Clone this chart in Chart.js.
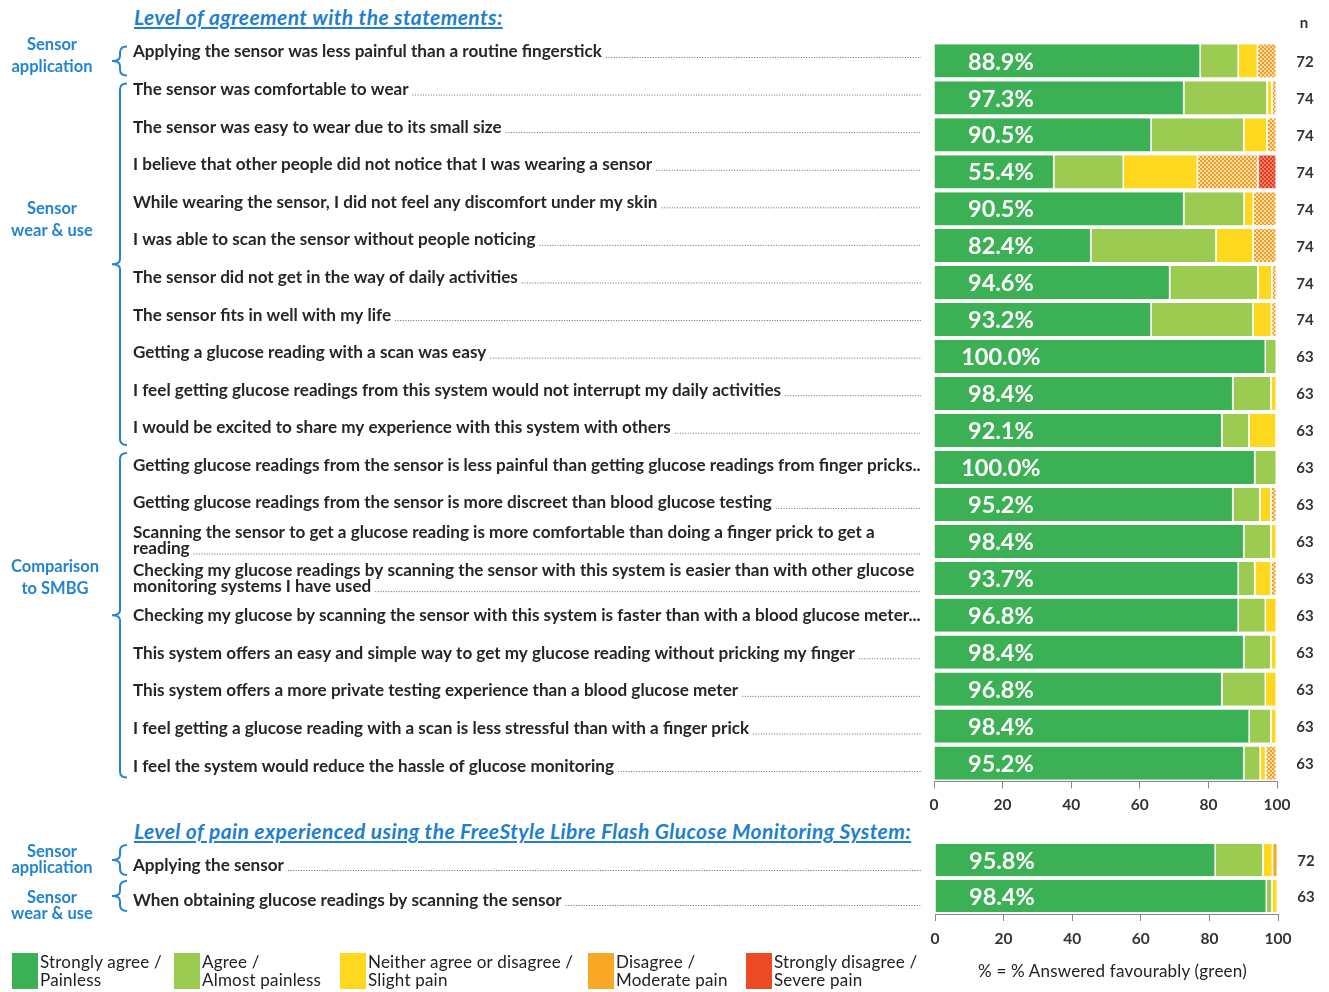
<!DOCTYPE html>
<html><head><meta charset="utf-8">
<script src="https://cdn.jsdelivr.net/npm/chart.js@4.4.0/dist/chart.umd.min.js"></script>
<style>
html,body{margin:0;padding:0;background:#fff;}
body{width:1329px;height:992px;position:relative;overflow:hidden;font-family:Lato,'Open Sans',sans-serif;}
#c1{position:absolute;left:0;top:0;}
#c2{position:absolute;left:0;top:820px;}
.title{position:absolute;left:134px;color:#1f7fcf;font-weight:bold;font-style:italic;font-size:21px;letter-spacing:0.4px;text-decoration:underline;white-space:nowrap;}
.leg{position:absolute;top:953px;height:36px;}
.sw{position:absolute;width:26px;height:36px;top:0;left:0;}
.lt{position:absolute;left:28px;top:0;font-size:17px;letter-spacing:0.2px;line-height:18px;color:#222;white-space:nowrap;}
.note{position:absolute;left:978px;top:960px;font-size:17px;letter-spacing:0.2px;color:#222;white-space:nowrap;}
</style></head>
<body>
<div class="title" style="top:4px">Level of agreement with the statements:</div>
<div class="title" style="top:818px">Level of pain experienced using the FreeStyle Libre Flash Glucose Monitoring System:</div>
<canvas id="c1" width="1329" height="822"></canvas>
<canvas id="c2" width="1329" height="130"></canvas>
<div id="legend"></div>
<div class="note">% = % Answered favourably (green)</div>
<script>
// ---------- DATA ----------
const statements = [
  'Applying the sensor was less painful than a routine fingerstick',
  'The sensor was comfortable to wear',
  'The sensor was easy to wear due to its small size',
  'I believe that other people did not notice that I was wearing a sensor',
  'While wearing the sensor, I did not feel any discomfort under my skin',
  'I was able to scan the sensor without people noticing',
  'The sensor did not get in the way of daily activities',
  'The sensor fits in well with my life',
  'Getting a glucose reading with a scan was easy',
  'I feel getting glucose readings from this system would not interrupt my daily activities',
  'I would be excited to share my experience with this system with others',
  'Getting glucose readings from the sensor is less painful than getting glucose readings from finger pricks..',
  'Getting glucose readings from the sensor is more discreet than blood glucose testing',
  ['Scanning the sensor to get a glucose reading is more comfortable than doing a finger prick to get a', 'reading'],
  ['Checking my glucose readings by scanning the sensor with this system is easier than with other glucose', 'monitoring systems I have used'],
  'Checking my glucose by scanning the sensor with this system is faster than with a blood glucose meter...',
  'This system offers an easy and simple way to get my glucose reading without pricking my finger',
  'This system offers a more private testing experience than a blood glucose meter',
  'I feel getting a glucose reading with a scan is less stressful than with a finger prick',
  'I feel the system would reduce the hassle of glucose monitoring'
];
const stronglyAgree = [77.8,73.0,63.5,35.1,73.0,45.9,68.9,63.5,96.8,87.3,84.1,93.7,87.3,90.5,88.9,88.9,90.5,84.1,92.1,90.5];
const agree         = [11.1,24.3,27.0,20.3,17.6,36.5,25.7,29.7, 3.2,11.1, 7.9, 6.3, 7.9, 7.9, 4.8, 7.9, 7.9,12.7, 6.3, 4.8];
const neither       = [ 5.6, 1.4, 6.8,21.6, 2.7,10.8, 4.1, 5.4, 0.0, 1.6, 7.9, 0.0, 3.2, 1.6, 4.8, 3.2, 1.6, 3.2, 1.6, 1.6];
const disagree      = [ 5.5, 1.3, 2.7,17.6, 6.7, 6.8, 1.3, 1.4, 0.0, 0.0, 0.0, 0.0, 1.6, 0.0, 1.5, 0.0, 0.0, 0.0, 0.0, 3.1];
const stronglyDis   = [ 0,   0,   0,   5.4, 0,   0,   0,   0,   0,   0,   0,   0,   0,   0,   0,   0,   0,   0,   0,   0  ];
const favourable    = [88.9,97.3,90.5,55.4,90.5,82.4,94.6,93.2,100.0,98.4,92.1,100.0,95.2,98.4,93.7,96.8,98.4,96.8,98.4,95.2];
const nValues       = [72,74,74,74,74,74,74,74,63,63,63,63,63,63,63,63,63,63,63,63];
const groupNames    = [['Sensor','application'],['Sensor','wear & use'],['Comparison','to SMBG']];
const groupFirst    = [0,1,11];
const groupLast     = [0,10,19];

const painStatements = ['Applying the sensor','When obtaining glucose readings by scanning the sensor'];
const painless     = [81.9,96.8];
const almostPain   = [13.9, 1.6];
const slightPain   = [ 2.8, 1.6];
const moderatePain = [ 1.4, 0.0];
const severePain   = [ 0.0, 0.0];
const painFav      = [95.8,98.4];
const painN        = [72,63];
const painGroups   = [['Sensor','application'],['Sensor','wear & use']];
const painFirst    = [0,1];
const painLast     = [0,1];

const xTicks = [0,20,40,60,80,100];
const legendLabels = [['Strongly agree /','Painless'],['Agree /','Almost painless'],['Neither agree or disagree /','Slight pain'],['Disagree /','Moderate pain'],['Strongly disagree /','Severe pain']];

// ---------- STYLE ----------
const COL = {sa:'#3cb054', ag:'#9ccb52', ne:'#fed81e', di:'#f8a825', sd:'#ec4a25', blue:'#2384d0', text:'#262626'};
function dotPattern(){
  const c=document.createElement('canvas'); c.width=4; c.height=4;
  const g=c.getContext('2d');
  g.fillStyle='#fde3b4'; g.fillRect(0,0,4,4);
  g.fillStyle='#f39a1a';
  g.beginPath(); g.arc(1,1,1.15,0,Math.PI*2); g.fill();
  g.beginPath(); g.arc(3,3,1.15,0,Math.PI*2); g.fill();
  return g.createPattern(c,'repeat');
}
function redPattern(){
  const c=document.createElement('canvas'); c.width=4; c.height=4;
  const g=c.getContext('2d');
  g.fillStyle='#f28a6a'; g.fillRect(0,0,4,4);
  g.fillStyle='#e43a22';
  g.beginPath(); g.arc(1,1,1.2,0,Math.PI*2); g.fill();
  g.beginPath(); g.arc(3,3,1.2,0,Math.PI*2); g.fill();
  return g.createPattern(c,'repeat');
}

function brace(ctx,x,top,bot,mid){
  ctx.beginPath();
  ctx.moveTo(x+7,top);
  ctx.quadraticCurveTo(x,top,x,top+6);
  ctx.lineTo(x,mid-5);
  ctx.quadraticCurveTo(x,mid,x-8,mid);
  ctx.quadraticCurveTo(x,mid,x,mid+5);
  ctx.lineTo(x,bot-6);
  ctx.quadraticCurveTo(x,bot,x+7,bot);
  ctx.stroke();
}

const rowText = {
  id:'rowText',
  afterDraw(chart,args,o){
    const ctx=chart.ctx, xs=chart.scales.x, ys=chart.scales.y;
    const labels=chart.data.labels;
    const N=labels.length;
    ctx.save();
    const step = ys.getPixelForValue(1)-ys.getPixelForValue(0);
    for(let i=0;i<N;i++){
      const yc=ys.getPixelForValue(i);
      const dy = o.textDy[0] + (o.textDy[1]-o.textDy[0])*(N>1? i/(N-1):0);
      const lines=Array.isArray(labels[i])?labels[i]:[labels[i]];
      ctx.font='bold 17.1px Lato'; ctx.fillStyle=COL.text; ctx.textAlign='left'; ctx.textBaseline='middle';
      let endX=0,lastY=0;
      lines.forEach((ln,k)=>{
        const yy=yc+dy+(k-(lines.length-1)/2)*16;
        ctx.fillText(ln,o.textX,yy);
        endX=o.textX+ctx.measureText(ln).width; lastY=yy;
      });
      if(endX+4<o.leaderEnd){
        ctx.strokeStyle='#666'; ctx.lineWidth=1; ctx.setLineDash([1,1.6]);
        ctx.beginPath(); ctx.moveTo(endX+4,lastY+5.5); ctx.lineTo(o.leaderEnd,lastY+5.5); ctx.stroke();
        ctx.setLineDash([]);
      }
      // favourable %
      ctx.font='bold 23.5px Lato'; ctx.fillStyle='#fff'; ctx.textAlign='center';
      ctx.fillText(o.fav[i].toFixed(1)+'%', xs.getPixelForValue(19.5), yc+1);
      // n
      ctx.font='bold 15px Lato'; ctx.fillStyle='#333';
      ctx.fillText(String(o.n[i]), chart.chartArea.right+28, yc+1);
    }
    // groups
    ctx.strokeStyle=COL.blue; ctx.lineWidth=2;
    o.groups.forEach((g,gi)=>{
      const top=ys.getPixelForValue(o.first[gi])-step/2+ (o.braceInset||4);
      const bot=ys.getPixelForValue(o.last[gi])+step/2- (o.braceInset||4);
      brace(ctx,120,top,bot,(top+bot)/2);
      const ly = ys.getPixelForValue(o.labelRow[gi]);
      ctx.font='bold 16.5px Lato'; ctx.fillStyle=COL.blue; ctx.textAlign='center';
      ctx.fillText(g[0], o.labelX[gi], ly-o.labelGap/2);
      ctx.fillText(g[1], o.labelX[gi], ly+o.labelGap/2);
    });
    if(o.nHeader){
      ctx.font='bold 15px Lato'; ctx.fillStyle='#333'; ctx.textAlign='center';
      ctx.fillText('n', chart.chartArea.right+27, 23);
    }
    ctx.restore();
  }
};

function makeChart(id, labels, series, colors, opts, pad, tickPad){
  const ds = series.map((d,i)=>({data:d, backgroundColor:colors[i], borderColor:'#fff', borderWidth:{right:1.5,left:0,top:0,bottom:0}, borderSkipped:false, categoryPercentage:1, barPercentage:0.9}));
  return new Chart(document.getElementById(id), {
    type:'bar',
    data:{labels:labels, datasets:ds},
    options:{
      indexAxis:'y', responsive:false, animation:false, devicePixelRatio:1,
      layout:{padding:pad},
      plugins:{legend:{display:false}, tooltip:{enabled:false}, rowText:opts},
      scales:{
        x:{stacked:true, min:0, max:100, afterBuildTicks(s){s.ticks=xTicks.map(v=>({value:v}));},
           ticks:{font:{family:'Lato',size:15.5,weight:'bold'}, color:'#333', padding:tickPad, maxRotation:0, autoSkip:false},
           grid:{drawOnChartArea:false, drawTicks:true, tickLength:7, color:'#888'},
           border:{color:'#888', width:1},
           afterFit(s){s.height=32;}},
        y:{stacked:true, display:false}
      }
    },
    plugins:[rowText]
  });
}

const pat = dotPattern();
makeChart('c1', statements, [stronglyAgree,agree,neither,disagree,stronglyDis],
  [COL.sa,COL.ag,COL.ne,pat,redPattern()],
  {textX:133, leaderEnd:921, textDy:[-9,3], fav:favourable, n:nValues, groups:groupNames, first:groupFirst, last:groupLast, labelRow:[-0.14,4.3,13.98], labelX:[52,52,55], labelGap:22, nHeader:true},
  {left:934, right:52, top:42.5, bottom:8.5}, 7);

makeChart('c2', painStatements, [painless,almostPain,slightPain,moderatePain,severePain],
  [COL.sa,COL.ag,COL.ne,COL.di,COL.sd],
  {textX:133, leaderEnd:921, textDy:[5,4], fav:painFav, n:painN, groups:painGroups, first:painFirst, last:painLast, labelRow:[0,1.28], labelX:[52,52], labelGap:16, braceInset:3},
  {left:935, right:51, top:22, bottom:4}, 9);

// legend
const legColors=[COL.sa,COL.ag,COL.ne,COL.di,COL.sd];
const legX=[12,174,340,588,746];
const lg=document.getElementById('legend');
legendLabels.forEach((l,i)=>{
  const d=document.createElement('div'); d.className='leg'; d.style.left=legX[i]+'px';
  d.innerHTML='<div class="sw" style="background:'+legColors[i]+'"></div><div class="lt">'+l[0]+'<br>'+l[1]+'</div>';
  lg.appendChild(d);
});
</script>
</body></html>
